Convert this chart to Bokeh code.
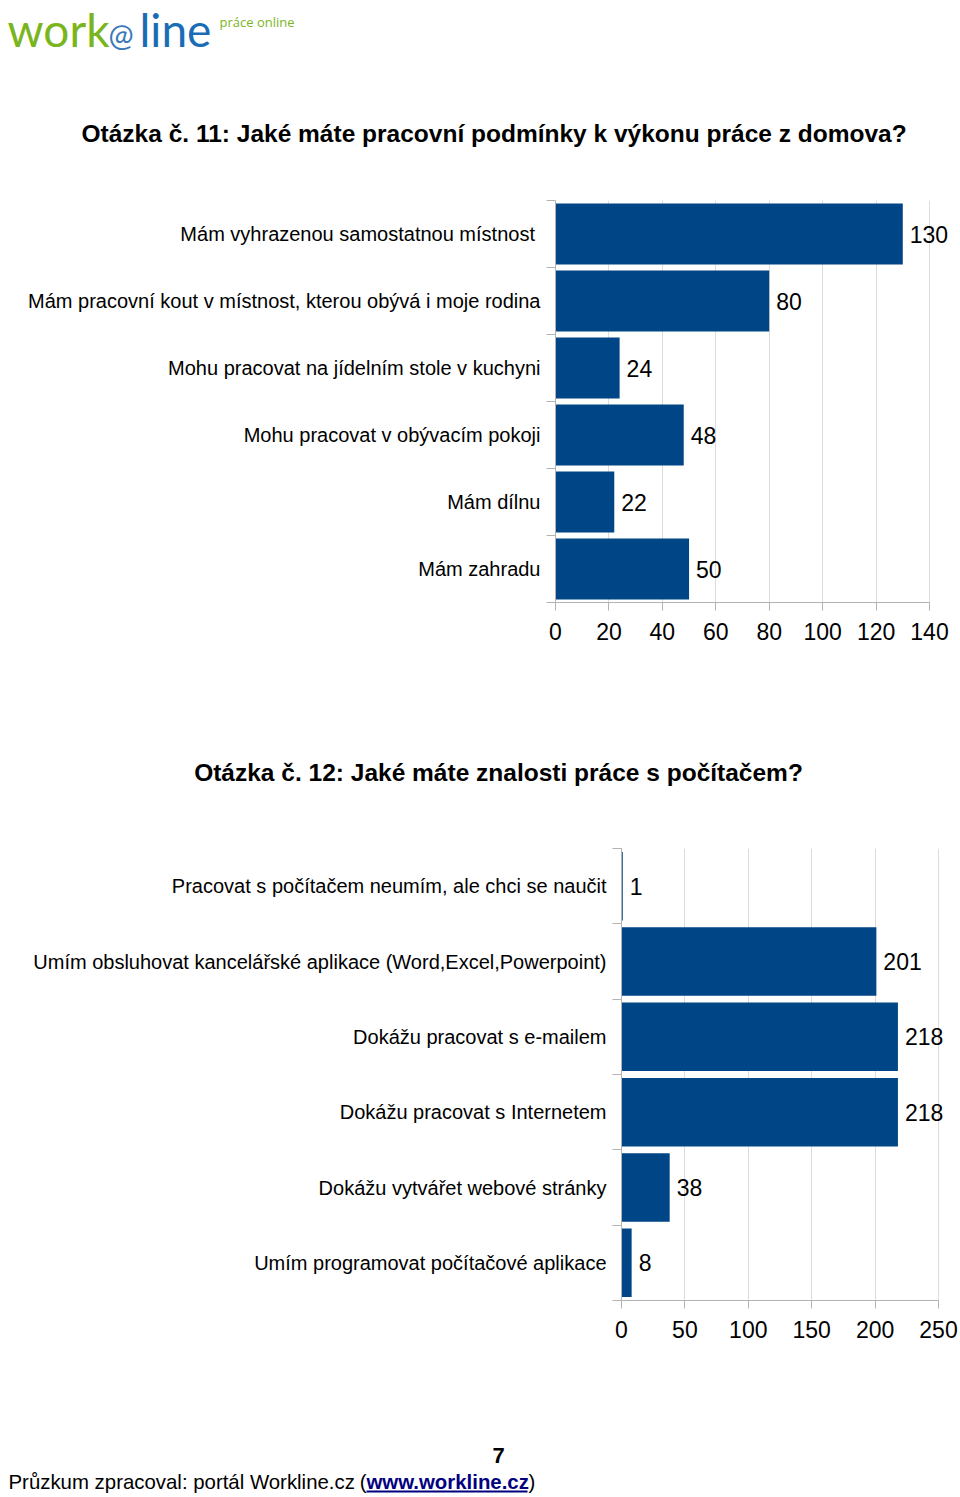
from bokeh.plotting import figure
from bokeh.models import Range1d, FixedTicker, ColumnDataSource, LabelSet
from bokeh.layouts import column
from bokeh.embed import file_html
from bokeh.resources import INLINE
from bokeh.core.properties import value

FONT = "Liberation Sans"
LOGO_FONT = "Lato"
BAR = "#004586"
AXIS = "#b3b3b3"
GRID = "#dcdcdc"

# ---- data ----
title1 = "Otázka č. 11:  Jaké máte pracovní podmínky k výkonu práce z domova?"
cats1 = [
    "Mám  vyhrazenou samostatnou místnost",
    "Mám pracovní kout v místnost, kterou obývá i moje rodina",
    "Mohu pracovat na jídelním stole v kuchyni",
    "Mohu pracovat v obývacím pokoji",
    "Mám dílnu",
    "Mám zahradu",
]
vals1 = [130, 80, 24, 48, 22, 50]
ticks1 = [0, 20, 40, 60, 80, 100, 120, 140]

title2 = "Otázka č. 12: Jaké máte znalosti práce s počítačem?"
cats2 = [
    "Pracovat s počítačem neumím, ale chci se naučit",
    "Umím obsluhovat kancelářské aplikace (Word,Excel,Powerpoint)",
    "Dokážu pracovat s e-mailem",
    "Dokážu pracovat s Internetem",
    "Dokážu vytvářet webové stránky",
    "Umím programovat počítačové aplikace",
]
vals2 = [1, 201, 218, 218, 38, 8]
ticks2 = [0, 50, 100, 150, 200, 250]

page_number = "7"
footer_text = "Průzkum zpracoval: portál Workline.cz"
footer_open = "("
footer_link = "www.workline.cz"
footer_end = ")"

W = 960


def text_fig(w, h):
    p = figure(width=w, height=h, x_range=Range1d(0, w), y_range=Range1d(h, 0),
               output_backend="svg", toolbar_location=None, min_border=0,
               x_axis_location=None, y_axis_location=None, title=None)
    p.grid.visible = False
    p.outline_line_color = None
    p.background_fill_color = "white"
    p.border_fill_color = "white"
    return p


def bar_chart(cats, vals, ticks, h, left, axis_px, top, bottom):
    n = len(cats)
    ys = [n - i - 0.5 for i in range(n)]
    src = ColumnDataSource(dict(y=ys, v=vals, lab=[str(v) for v in vals]))
    # frame spans to the right edge so value labels are not clipped;
    # the axis and grid are bounded to the tick range
    xend = ticks[-1] * (W - left) / axis_px
    p = figure(width=W, height=h, x_range=Range1d(ticks[0], xend),
               y_range=Range1d(0, n), output_backend="svg", toolbar_location=None,
               min_border_left=left, min_border_right=0, min_border_top=top,
               min_border_bottom=bottom, title=None)
    p.outline_line_color = None
    p.hbar(y="y", left=0, right="v", height=0.91, source=src,
           fill_color=BAR, line_color=None)
    p.add_layout(LabelSet(x="v", y="y", text="lab", source=src, x_offset=7,
                          text_baseline="middle", text_align="left",
                          text_font=value(FONT), text_font_size="23px",
                          text_color="black"))
    xa = p.xaxis[0]
    xa.ticker = FixedTicker(ticks=ticks)
    xa.bounds = (ticks[0], ticks[-1])
    xa.axis_line_color = AXIS
    xa.major_tick_line_color = AXIS
    xa.major_tick_out = 8
    xa.major_tick_in = 0
    xa.minor_tick_line_color = None
    xa.major_label_text_font = FONT
    xa.major_label_text_font_size = "23px"
    xa.major_label_text_color = "black"
    xa.major_label_standoff = 12
    ya = p.yaxis[0]
    ya.ticker = FixedTicker(ticks=ys, minor_ticks=list(range(n + 1)))
    ya.major_label_overrides = {y: c for y, c in zip(ys, cats)}
    ya.axis_line_color = AXIS
    ya.major_tick_line_color = None
    ya.major_tick_out = 0
    ya.major_tick_in = 0
    ya.minor_tick_line_color = AXIS
    ya.minor_tick_out = 9
    ya.minor_tick_in = 0
    ya.major_label_text_font = FONT
    ya.major_label_text_font_size = "20px"
    ya.major_label_text_color = "black"
    ya.major_label_standoff = 6
    p.ygrid.visible = False
    p.xgrid.grid_line_color = GRID
    p.xgrid.ticker = FixedTicker(ticks=ticks)
    p.xgrid.bounds = (ticks[0], ticks[-1])
    return p


# header: logo + title 1
head = text_fig(W, 165)
head.text(x=[7], y=[29], text=["work"], text_font=value(LOGO_FONT),
          text_font_size="46px", text_color="#7ab51d", text_baseline="middle")
head.text(x=[108], y=[33], text=["@"], text_font=value(LOGO_FONT),
          text_font_size="30px", text_color="#3a78b8", text_baseline="middle")
head.text(x=[139], y=[29], text=["line"], text_font=value(LOGO_FONT),
          text_font_size="46px", text_color="#1a6db5", text_baseline="middle")
head.text(x=[219], y=[21], text=["práce online"], text_font=value("Open Sans"),
          text_font_size="13px", text_color="#7ab51d", text_baseline="middle")
head.text(x=[497], y=[133], text=[title1], text_font=value(FONT),
          text_font_size="24.5px", text_font_style="bold", text_color="black",
          text_align="center", text_baseline="middle")

chart1 = bar_chart(cats1, vals1, ticks1, 525, 555, 374, 35, 88)

mid = text_fig(W, 120)
mid.text(x=[498], y=[82], text=[title2], text_font=value(FONT),
         text_font_size="24.5px", text_font_style="bold", text_color="black",
         text_align="center", text_baseline="middle")

chart2 = bar_chart(cats2, vals2, ticks2, 580, 621, 317, 38, 90)

foot = text_fig(W, 107)
foot.text(x=[498], y=[65], text=[page_number], text_font=value(FONT),
          text_font_size="22px", text_font_style="bold", text_color="black",
          text_align="center", text_baseline="middle")
foot.text(x=[8], y=[91], text=[footer_text], text_font=value(FONT),
          text_font_size="20.4px", text_color="black", text_baseline="middle")
foot.text(x=[366], y=[91], text=[footer_open], text_font=value(FONT),
          text_font_size="20.4px", text_color="black", text_baseline="middle",
          text_align="right")
foot.text(x=[366], y=[91], text=[footer_link], text_font=value(FONT),
          text_font_size="20.4px", text_font_style="bold", text_color="#000080",
          text_baseline="middle")
foot.text(x=[528], y=[91], text=[footer_end], text_font=value(FONT),
          text_font_size="20.4px", text_color="black", text_baseline="middle")
foot.segment(x0=[366], y0=[101], x1=[527], y1=[101], line_color="#000080", line_width=2)

layout = column(*[column(f, spacing=0) for f in (head, chart1, mid, chart2, foot)],
                spacing=0)

open("out.html", "w").write(file_html(layout, INLINE))
